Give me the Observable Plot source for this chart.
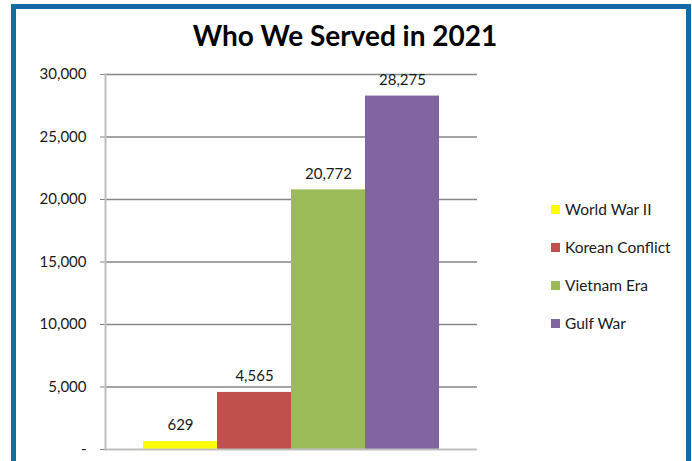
<!DOCTYPE html>
<html>
<head>
<meta charset="utf-8">
<script src="https://cdn.jsdelivr.net/npm/d3@7"></script>
<script src="https://cdn.jsdelivr.net/npm/@observablehq/plot@0.6"></script>
<style>
  html, body { margin: 0; padding: 0; background: #fff; }
  #wrap { position: relative; width: 692px; height: 461px; overflow: hidden; font-family: Lato, "Open Sans", sans-serif; }
  #chart { position: absolute; left: 0; top: 0; }
  #border { position: absolute; left: 11px; top: 4px; width: 670px; height: 470px; border: 5px solid #146aa4; pointer-events: none; }
  #title { position: absolute; left: 0; top: 18px; width: 690px; text-align: center; font-weight: bold; font-size: 28px; color: #000; }
  #legend { position: absolute; left: 551px; top: 190px; }
  .row { display: flex; align-items: center; height: 38px; font-size: 15.5px; color: #1a1a1a; }
  .sw { width: 9px; height: 9px; margin-right: 5px; }
</style>
</head>
<body>
<div id="wrap">
  <div id="chart"></div>
  <div id="title">Who We Served in 2021</div>
  <div id="legend"></div>
  <div id="border"></div>
</div>
<script>
const series = ["World War II", "Korean Conflict", "Vietnam Era", "Gulf War"];
const values = [629, 4565, 20772, 28275];
const colors = ["#ffff00", "#c0504d", "#9bbb59", "#8064a2"];
const yTicks = [0, 5000, 10000, 15000, 20000, 25000, 30000];

const data = series.map((s, i) => ({name: s, value: values[i]}));
const fmt = d3.format(",");

const chart = Plot.plot({
  width: 692,
  height: 461,
  marginLeft: 105,
  marginRight: 215,
  marginTop: 74,
  marginBottom: 12,
  style: {fontFamily: "Lato, 'Open Sans', sans-serif", fontSize: "15px", color: "#1a1a1a", background: "transparent"},
  x: {type: "band", domain: series, range: [142, 439], padding: 0, axis: null},
  y: {domain: [0, 30000], label: null},
  color: {domain: series, range: colors},
  marks: [
    Plot.ruleY(yTicks.filter(d => d > 0), {stroke: "#868686", strokeWidth: 1.3}),
    Plot.axisY({ticks: yTicks, tickSize: 5, tickPadding: 14, stroke: "#868686", label: null,
      tickFormat: d => d === 0 ? "-" : fmt(d), fontSize: 15, fill: "#1a1a1a"}),
    Plot.frame({anchor: "left", stroke: "#bfbfbf", strokeWidth: 2}),
    Plot.barY(data, {x: "name", y: "value", fill: "name", insetLeft: 0, insetRight: 0}),
    Plot.ruleY([0], {stroke: "#bfbfbf", strokeWidth: 2}),
    Plot.text(data, {x: "name", y: "value", text: d => fmt(d.value), dy: -16, fontSize: 15, fill: "#1a1a1a"})
  ]
});
document.getElementById("chart").appendChild(chart);

const legend = document.getElementById("legend");
series.forEach((s, i) => {
  const row = document.createElement("div");
  row.className = "row";
  const sw = document.createElement("div");
  sw.className = "sw";
  sw.style.background = colors[i];
  const t = document.createElement("span");
  t.textContent = s;
  row.appendChild(sw);
  row.appendChild(t);
  legend.appendChild(row);
});
</script>
</body>
</html>
